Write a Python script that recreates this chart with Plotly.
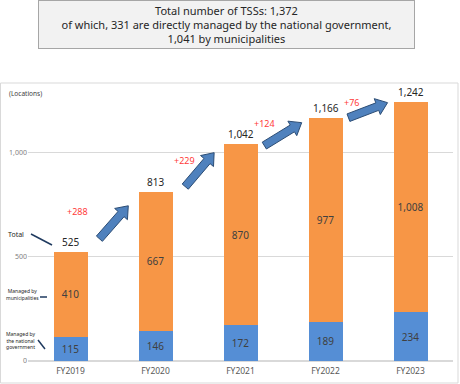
import plotly.graph_objects as go
import math

categories = ["FY2019", "FY2020", "FY2021", "FY2022", "FY2023"]
national = [115, 146, 172, 189, 234]
municipal = [410, 667, 870, 977, 1008]
totals = [525, 813, 1042, 1166, 1242]
increases = ["+288", "+229", "+124", "+76"]

# layout helpers (positions, not data)
inc_pos = [(0.08, 716), (1.34, 962), (2.28, 1139), (3.31, 1240)]
arrow_pos = [(0.34, 587, 0.68, 745), (0.35, 837, 0.69, 1000),
             (0.28, 1034, 0.72, 1144), (0.27, 1168, 0.73, 1240)]

W, H = 460, 384
L, R, T, B = 28, 7, 91, 23
PW, PH = W - L - R, H - T - B
YMAX = 1296

ORANGE = "#F79646"
BLUE = "#558ED5"

fig = go.Figure()
fig.add_trace(go.Bar(x=categories, y=national, marker_color=BLUE,
                     marker_line_width=0,
                     text=[str(v) for v in national], textposition="inside",
                     insidetextanchor="middle",
                     textfont=dict(size=10, color="#404040", family="Noto Sans"),
                     hoverinfo="skip"))
fig.add_trace(go.Bar(x=categories, y=municipal, marker_color=ORANGE,
                     marker_line_width=0,
                     text=[f"{v:,}" for v in municipal], textposition="inside",
                     insidetextanchor="middle",
                     textfont=dict(size=10, color="#404040", family="Noto Sans"),
                     hoverinfo="skip"))

ann = []
for c, t in zip(categories, totals):
    ann.append(dict(x=c, y=t, text=f"{t:,}", showarrow=False, yanchor="bottom",
                    yshift=1, font=dict(size=10, color="#262626", family="Noto Sans")))
for (xi, yv), txt in zip(inc_pos, increases):
    ann.append(dict(x=xi, y=yv, text=txt, showarrow=False, xref="x", yref="y",
                    font=dict(size=9, color="#FF3B3B", family="Noto Sans")))


def px2paper(px, py):
    return (px - L) / PW, (H - B - py) / PH


def data2px(xi, yv):
    return L + (xi + 0.5) / 5 * PW, H - B - yv / YMAX * PH


shapes = []
# chart frame
x0, y0 = px2paper(0.5, 383)
x1, y1 = px2paper(458, 83)
shapes.append(dict(type="rect", xref="paper", yref="paper", x0=x0, y0=y0, x1=x1, y1=y1,
                   line=dict(color="#D9D9D9", width=1), fillcolor="rgba(0,0,0,0)", layer="below"))

# block arrows between consecutive bars
for i, (xa, ya, xb, yb) in enumerate(arrow_pos):
    ax, ay = data2px(i + xa, ya)
    bx, by = data2px(i + xb, yb)
    dx, dy = bx - ax, by - ay
    ln = math.hypot(dx, dy)
    ux, uy = dx / ln, dy / ln
    nx, ny = -uy, ux
    sw, hw, hl = 4.0, 8.5, 11.0
    hx, hy = bx - ux * hl, by - uy * hl
    pts = [(ax + nx * sw, ay + ny * sw), (hx + nx * sw, hy + ny * sw),
           (hx + nx * hw, hy + ny * hw), (bx, by),
           (hx - nx * hw, hy - ny * hw), (hx - nx * sw, hy - ny * sw),
           (ax - nx * sw, ay - ny * sw)]
    pp = [px2paper(p[0], p[1]) for p in pts]
    path = "M " + " L ".join(f"{p[0]:.5f},{p[1]:.5f}" for p in pp) + " Z"
    shapes.append(dict(type="path", xref="paper", yref="paper", path=path,
                       fillcolor="#4F81BD", line=dict(color="#2C4D75", width=1)))

# leader lines for left labels
for (pa, pb) in [((31, 234), (52, 245)), ((40, 297), (47, 297)), ((38, 340), (45, 349))]:
    a = px2paper(*pa)
    b = px2paper(*pb)
    shapes.append(dict(type="line", xref="paper", yref="paper", x0=a[0], y0=a[1], x1=b[0], y1=b[1],
                       line=dict(color="#1F3A5F", width=1.5)))


def paper_ann(px, py, text, size, color="#262626", align="center", xanchor="center"):
    x, y = px2paper(px, py)
    return dict(x=x, y=y, xref="paper", yref="paper", text=text, showarrow=False,
                xanchor=xanchor, yanchor="middle", align=align,
                font=dict(size=size, color=color, family="Noto Sans"))


ann.append(paper_ann(16, 234, "Total", 7))
ann.append(paper_ann(22, 294, "Managed by<br>municipalities", 5))
ann.append(paper_ann(20, 340, "Managed by<br>the national<br>government", 5))
ann.append(paper_ann(7, 94, "(Locations)", 6.5, color="#404040", xanchor="left"))

# title box
tx, ty = px2paper(226.5, 24.5)
ann.append(dict(x=tx, y=ty, xref="paper", yref="paper", showarrow=False,
                text="Total number of TSSs: 1,372<br>of which, 331 are directly managed by the national government,<br>1,041 by municipalities",
                width=373, height=45, bgcolor="#F2F2F2", bordercolor="#A6A6A6", borderwidth=1,
                borderpad=1, xanchor="center", yanchor="middle",
                font=dict(size=11, color="#262626", family="Noto Sans")))

fig.update_layout(
    width=W, height=H, barmode="stack", bargap=0.6, showlegend=False,
    margin=dict(l=L, r=R, t=T, b=B, pad=0),
    paper_bgcolor="white", plot_bgcolor="white",
    annotations=ann, shapes=shapes,
    xaxis=dict(showgrid=False, showline=False, ticks="", zeroline=False,
               tickfont=dict(size=8.5, color="#595959", family="Noto Sans"), ticklabelstandoff=3),
    yaxis=dict(range=[0, YMAX], tickvals=[0, 500, 1000], tickformat=",",
               showgrid=True, gridcolor="#D9D9D9", gridwidth=1, zeroline=True,
               zerolinecolor="#D9D9D9", showline=False, ticks="",
               tickfont=dict(size=7, color="#808080", family="Noto Sans")),
)

fig.write_html("out.html", config={"displayModeBar": False},
               post_script="document.body.style.margin='0';")
